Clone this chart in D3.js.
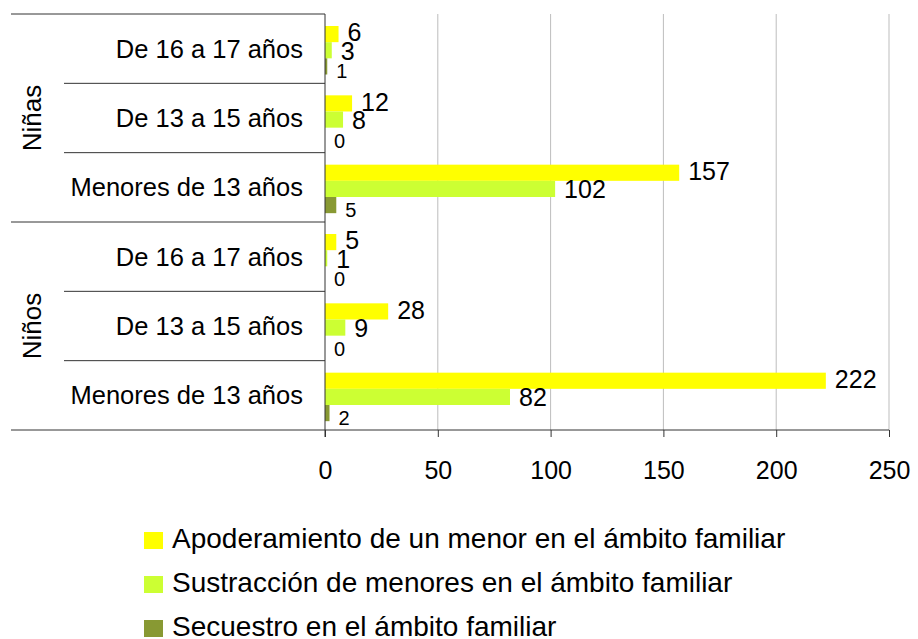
<!DOCTYPE html>
<html>
<head>
<meta charset="utf-8">
<script src="https://cdn.jsdelivr.net/npm/d3@7"></script>
<style>
  body { margin: 0; background: #fff; }
  svg { font-family: "Liberation Sans", Arial, sans-serif; }
</style>
</head>
<body>
<div id="chart"></div>
<script>
const width = 918;
const height = 639;

// categories, top to bottom
const groups = ['Niñas', 'Niños'];
const subgroups = ['De 16 a 17 años', 'De 13 a 15 años', 'Menores de 13 años'];
const seriesNames = [
  'Apoderamiento de un menor en el ámbito familiar',
  'Sustracción de menores en el ámbito familiar',
  'Secuestro en el ámbito familiar'
];
const apoderamiento = [6, 12, 157, 5, 28, 222];
const sustraccion = [3, 8, 102, 1, 9, 82];
const secuestro = [1, 0, 5, 0, 0, 2];
const xTicks = [0, 50, 100, 150, 200, 250];

const colors = ['#FFFF00', '#CCFF33', '#889933'];
const labelSizes = [25, 25, 20];
const labelShift = [-1.5, 0.5, 5];

const rows = [];
groups.forEach((g, gi) => {
  subgroups.forEach((s, si) => {
    const i = gi * subgroups.length + si;
    rows.push({ key: g + '|' + s, group: g, label: s, values: [apoderamiento[i], sustraccion[i], secuestro[i]] });
  });
});

const margin = { top: 14, left: 325, right: 29, bottom: 209 };
const plotBottom = height - margin.bottom;

const x = d3.scaleLinear().domain([0, 250]).range([margin.left, width - margin.right]);
const y = d3.scaleBand().domain(rows.map(d => d.key)).range([margin.top, plotBottom]);
const yInner = d3.scaleBand().domain([0, 1, 2]).range([12, 60.5]);

const svg = d3.select('#chart')
  .append('svg')
  .attr('width', width)
  .attr('height', height);

// gridlines
svg.append('g')
  .selectAll('line')
  .data(xTicks.slice(1))
  .enter()
  .append('line')
  .attr('x1', d => x(d))
  .attr('x2', d => x(d))
  .attr('y1', margin.top)
  .attr('y2', plotBottom)
  .attr('stroke', '#BDBDBD')
  .attr('stroke-width', 1);

// bars
const rowG = svg.append('g')
  .selectAll('g')
  .data(rows)
  .enter()
  .append('g')
  .attr('transform', d => `translate(0,${y(d.key)})`);

rowG.selectAll('rect')
  .data(d => d.values)
  .enter()
  .append('rect')
  .attr('x', x(0))
  .attr('y', (d, i) => yInner(i))
  .attr('width', d => x(d) - x(0))
  .attr('height', yInner.bandwidth())
  .attr('fill', (d, i) => colors[i]);

rowG.selectAll('text')
  .data(d => d.values)
  .enter()
  .append('text')
  .attr('x', d => x(d) + 9)
  .attr('y', (d, i) => yInner(i) + yInner.bandwidth() / 2 + labelShift[i])
  .attr('dy', '0.35em')
  .attr('font-size', (d, i) => labelSizes[i])
  .attr('fill', '#000')
  .text(d => d);

// x axis
const xAxis = svg.append('g')
  .attr('transform', `translate(0,${plotBottom})`)
  .call(d3.axisBottom(x).tickValues(xTicks).tickSize(7).tickPadding(24));
xAxis.selectAll('text').attr('font-size', 25).attr('font-family', '"Liberation Sans", Arial, sans-serif').attr('fill', '#000');
xAxis.selectAll('line').attr('stroke', '#333');
xAxis.select('.domain').attr('stroke', '#333').attr('d', `M${x(0)},0H${x(250)}`);

// left axis line
svg.append('line')
  .attr('x1', x(0)).attr('x2', x(0))
  .attr('y1', margin.top).attr('y2', plotBottom + 7)
  .attr('stroke', '#333');

// category table lines
const sepLeftGroup = 11;
const sepLeftSub = 64;
const bounds = [];
rows.forEach((d, i) => {
  const isGroupStart = i % subgroups.length === 0;
  bounds.push({ y: y(d.key), left: isGroupStart ? sepLeftGroup : sepLeftSub });
});
bounds.push({ y: plotBottom, left: sepLeftGroup });

svg.append('g')
  .selectAll('line')
  .data(bounds)
  .enter()
  .append('line')
  .attr('x1', d => d.left)
  .attr('x2', x(0))
  .attr('y1', d => d.y)
  .attr('y2', d => d.y)
  .attr('stroke', '#333');

// subcategory labels
svg.append('g')
  .selectAll('text')
  .data(rows)
  .enter()
  .append('text')
  .attr('x', 303)
  .attr('y', d => y(d.key) + y.bandwidth() / 2)
  .attr('dy', '0.35em')
  .attr('text-anchor', 'end')
  .attr('font-size', 25.5)
  .text(d => d.label);

// group labels
svg.append('g')
  .selectAll('text')
  .data(groups)
  .enter()
  .append('text')
  .attr('transform', (g, gi) => {
    const top = y(rows[gi * subgroups.length].key);
    const cy = top + y.bandwidth() * subgroups.length / 2;
    return `translate(32,${cy}) rotate(-90)`;
  })
  .attr('text-anchor', 'middle')
  .attr('dy', '0.35em')
  .attr('font-size', 26)
  .text(d => d);

// legend
const legend = svg.append('g')
  .selectAll('g')
  .data(seriesNames)
  .enter()
  .append('g')
  .attr('transform', (d, i) => `translate(144,${540.5 + i * 44})`);

legend.append('rect')
  .attr('x', 0)
  .attr('y', -8.5)
  .attr('width', 19)
  .attr('height', 17)
  .attr('fill', (d, i) => colors[i]);

legend.append('text')
  .attr('x', 28)
  .attr('y', -2)
  .attr('dy', '0.35em')
  .attr('font-size', 28)
  .text(d => d);
</script>
</body>
</html>
